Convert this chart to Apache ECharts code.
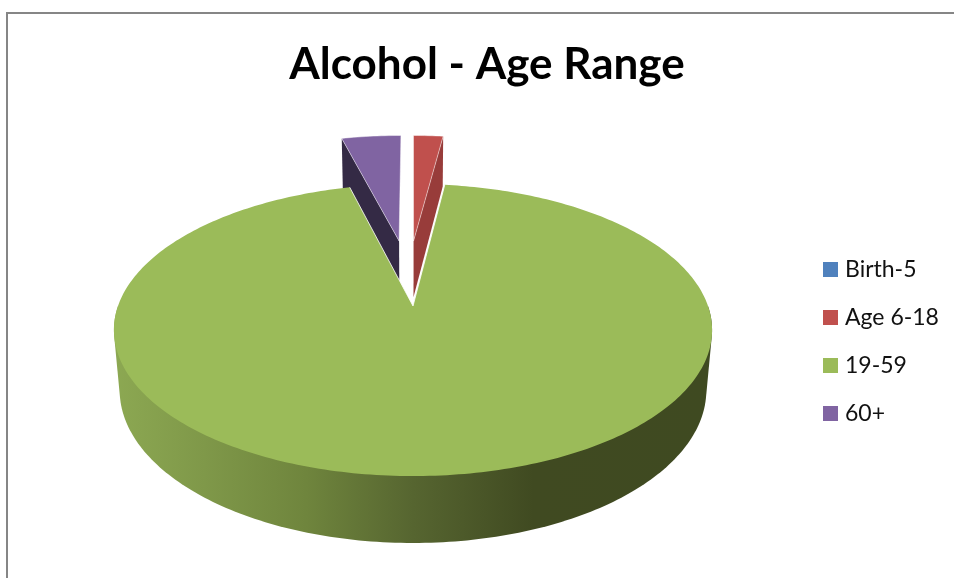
<!DOCTYPE html>
<html><head><meta charset="utf-8">
<style>html,body{margin:0;padding:0;background:#fff;overflow:hidden}#c{width:954px;height:578px}</style>
<script src="https://cdn.jsdelivr.net/npm/echarts@6/dist/echarts.min.js"></script>
</head><body><div id="c"></div>
<script>
const titleText = 'Alcohol - Age Range';
const categories = ['Birth-5', 'Age 6-18', '19-59', '60+'];
const values = [0, 2, 94, 4];
const colors = ['#4F81BD', '#C0504D', '#9BBB59', '#8064A2'];
const wallColors = ['#3A5F8C', '#983C3A', null, '#342A45'];
const explode = [[0, 0], [0.002, 0.495], [0, 0], [-0.051, 0.495]];

// perspective projection of the pie's disk
const CX = 413, Y0 = 306, RX = 295, RY = 142.1, K = 0.1645, M = 0.019, D = 60.4;
const total = values.reduce((a, b) => a + b, 0);
function proj(u, v, bottom) {
  const w = 1 + K * v + (bottom ? M : 0);
  return [CX + RX * u / w, Y0 + (-RY * v + (bottom ? D : 0)) / w];
}
function rim(theta, off, bottom) {
  return proj(Math.sin(theta) + off[0], Math.cos(theta) + off[1], bottom);
}
function sliceAngles(i) {
  let s = 0;
  for (let k = 0; k < i; k++) s += values[k];
  return [s / total * 2 * Math.PI, (s + values[i]) / total * 2 * Math.PI];
}
function hull(pts) {
  pts = pts.slice().sort((a, b) => a[0] - b[0] || a[1] - b[1]);
  const cross = (o, a, b) => (a[0]-o[0])*(b[1]-o[1]) - (a[1]-o[1])*(b[0]-o[0]);
  const lo = [], up = [];
  for (const p of pts) { while (lo.length > 1 && cross(lo[lo.length-2], lo[lo.length-1], p) <= 0) lo.pop(); lo.push(p); }
  for (const p of pts.slice().reverse()) { while (up.length > 1 && cross(up[up.length-2], up[up.length-1], p) <= 0) up.pop(); up.push(p); }
  return lo.slice(0, -1).concat(up.slice(0, -1));
}
const wallGradient = new echarts.graphic.LinearGradient(115, 0, 712, 0, [
  { offset: 0, color: '#8CA852' },
  { offset: 0.15, color: '#7F9849' },
  { offset: 0.32, color: '#6F853D' },
  { offset: 0.50, color: '#566530' },
  { offset: 0.70, color: '#404A21' },
  { offset: 1, color: '#3F4A21' }
], true);

function renderSlice(i) {
  return function () {
    if (!values[i]) return null;
    const [a0, a1] = sliceAngles(i);
    const off = explode[i];
    const n = Math.max(8, Math.round((a1 - a0) * 60));
    const apex = proj(off[0], off[1], false);
    const top = [apex];
    for (let j = 0; j <= n; j++) top.push(rim(a0 + (a1 - a0) * j / n, off, false));
    const children = [];
    const isMain = categories[i] === '19-59';
    if (isMain) {
      const pts = [];
      for (let j = 0; j <= 180; j++) {
        const t = Math.PI / 2 + Math.PI * j / 180;
        pts.push(rim(t, off, false), rim(t, off, true));
      }
      children.push({ type: 'polygon', shape: { points: hull(pts) }, style: { fill: wallGradient } });
    } else {
      // the radial face that stays visible after the slice is pulled out
      const edge = (i === 1) ? a1 : a0;
      const wall = [apex, rim(edge, off, false), rim(edge, off, true), proj(off[0], off[1], true)];
      children.push({ type: 'polygon', shape: { points: wall }, style: { fill: wallColors[i] } });
    }
    children.push({ type: 'polygon', shape: { points: top },
      style: { fill: colors[i], stroke: isMain ? null : 'rgba(255,255,255,0.45)', lineWidth: 1 } });
    if (isMain) {
      children.push({ type: 'polyline', shape: { points: [rim(a0, off, false), apex, rim(a1, off, false)] },
        style: { fill: null, stroke: 'rgba(255,255,255,0.8)', lineWidth: 1 } });
    }
    return { type: 'group', children };
  };
}

const drawOrder = [0, 3, 1, 2];
const chart = echarts.init(document.getElementById('c'), null, { renderer: 'canvas' });
chart.setOption({
  animation: false,
  backgroundColor: '#fff',
  title: { text: titleText, left: 487, top: 43, textAlign: 'center',
    textStyle: { fontFamily: 'Lato', fontWeight: 'bold', fontSize: 44, color: '#000' }, padding: 0 },
  legend: { orient: 'vertical', left: 823, top: 258, padding: 0, icon: 'rect', itemWidth: 15, itemHeight: 15, itemGap: 25,
    selectedMode: false, data: categories,
    textStyle: { fontFamily: 'Lato', fontSize: 23, color: '#111', padding: [0, 0, 0, 2], lineHeight: 15 } },
  graphic: [{ type: 'rect', silent: true, shape: { x: 7, y: 13, width: 1200, height: 900 },
    style: { fill: 'none', stroke: '#868686', lineWidth: 2 } }],
  series: drawOrder.map((i, idx) => ({
    type: 'custom', name: categories[i], coordinateSystem: 'none', z: 2 + idx, silent: true,
    itemStyle: { color: colors[i] },
    renderItem: renderSlice(i),
    data: [[values[i]]]
  }))
});
</script></body></html>
